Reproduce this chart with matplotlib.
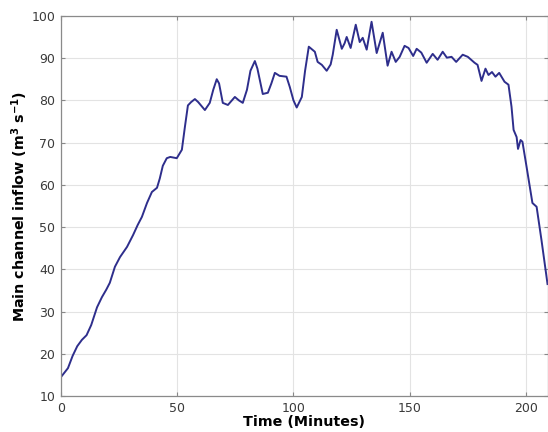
import matplotlib
matplotlib.use("Agg")
import matplotlib.pyplot as plt

# Main channel inflow hydrograph (time in minutes, flow in m3/s)
time_min = [0, 3, 5, 7, 9, 11, 13, 15.5, 17.6, 19.5, 21, 23.2, 25.4, 28.4, 31, 33,
            34.8, 37, 39.1, 41.3, 42.5, 43.8, 45.5, 47, 49.8, 52, 53.3, 54.6, 56,
            57.6, 59, 61.9, 64, 65.5, 67, 68, 69.6, 71.8, 74.8, 76.5, 78.2, 80,
            81.5, 83.4, 84.5, 86.8, 89, 90.5, 92, 94, 97, 98.4, 100, 101.4, 103.6,
            105, 106.6, 109.2, 110.4, 112.2, 114.3, 116, 116.9, 118.6, 120.8, 122,
            122.9, 124.6, 126.8, 128.5, 129.8, 131.5, 133.6, 135.8, 138.4, 140.5,
            142.2, 144, 145.7, 147.8, 149.5, 151.5, 153, 155, 157.3, 159.9, 162,
            164.2, 166, 168, 170, 172.8, 175, 177.9, 179.2, 180.9, 182.6, 183.9,
            185.4, 186.9, 188.5, 190.8, 192.5, 193.8, 194.7, 196, 196.6, 197.7,
            198.5, 200.3, 202.8, 204.6, 206.7, 209.3]
inflow = [14.5, 16.6, 19.5, 21.8, 23.3, 24.4, 26.8, 31.0, 33.4, 35.2, 36.8, 40.6,
          42.9, 45.3, 48.1, 50.5, 52.4, 55.7, 58.3, 59.3, 61.5, 64.5, 66.3, 66.6,
          66.3, 68.3, 73.7, 78.8, 79.6, 80.3, 79.6, 77.7, 79.4, 82.5, 85.0, 84.0,
          79.4, 78.9, 80.8, 80.0, 79.4, 82.5, 87.0, 89.3, 87.5, 81.5, 81.8, 84.0,
          86.5, 85.8, 85.6, 83.2, 80.0, 78.3, 80.8, 87.0, 92.7, 91.5, 89.1, 88.4,
          87.0, 88.5, 90.8, 96.7, 92.2, 93.5, 95.0, 92.4, 97.9, 93.8, 94.8, 92.0,
          98.6, 91.2, 96.0, 88.2, 91.5, 89.1, 90.3, 92.9, 92.4, 90.5, 92.2, 91.3,
          88.9, 91.0, 89.6, 91.5, 90.1, 90.3, 89.1, 90.8, 90.3, 88.9, 88.4, 84.6,
          87.5, 86.0, 86.7, 85.6, 86.5, 84.4, 83.7, 78.5, 73.0, 71.3, 68.5, 70.6,
          70.2, 64.2, 55.7, 54.8, 46.9, 36.5]

x_ticks = [0, 50, 100, 150, 200]
y_ticks = [10, 20, 30, 40, 50, 60, 70, 80, 90, 100]

fig = plt.figure(figsize=(5.48, 4.32), dpi=100)
ax = fig.add_axes([0.1113, 0.0833, 0.8887, 0.880])

ax.plot(time_min, inflow, color="#2e2e8c", linewidth=1.4)

ax.set_xlim(0, 209.5)
ax.set_ylim(10, 100)
ax.set_xticks(x_ticks)
ax.set_yticks(y_ticks)
ax.grid(True, color="#e3e3e3", linewidth=0.8)
ax.set_axisbelow(True)

ax.tick_params(direction="in", length=3, width=0.8, color="#888888",
               labelsize=9, labelcolor="#3a3a3a", top=True, right=True, pad=4)
for side in ax.spines.values():
    side.set_color("#8a8a8a")
    side.set_linewidth(0.9)

ax.set_xlabel("Time (Minutes)", fontsize=10.3, fontweight="bold", labelpad=0)
ax.set_ylabel("Main channel inflow (m$^\\mathbf{3}$ s$^\\mathbf{-1}$)",
              fontsize=10.3, fontweight="bold", labelpad=1)

fig.savefig("out.png", dpi=100)
